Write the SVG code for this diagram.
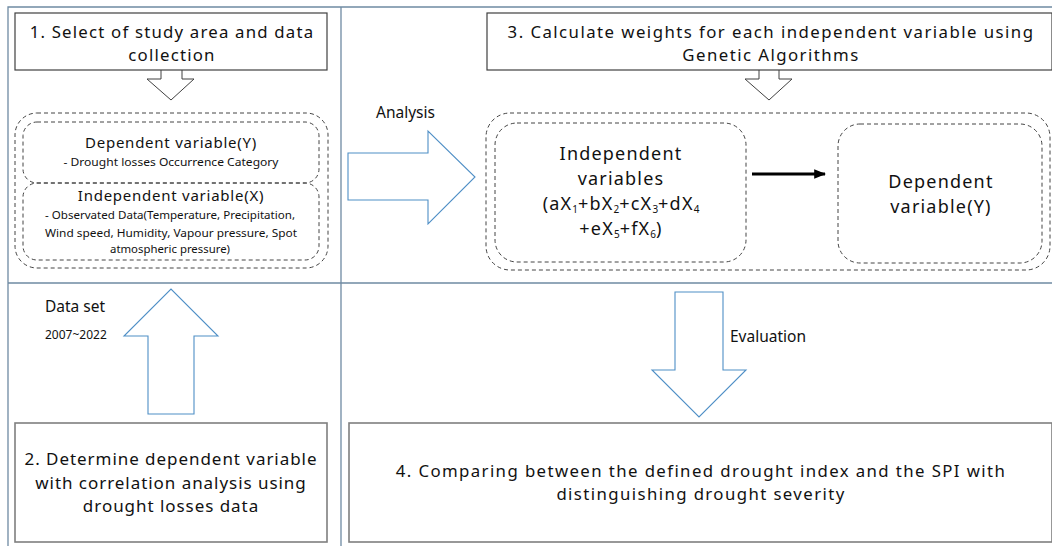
<svg xmlns="http://www.w3.org/2000/svg" width="1052" height="546" viewBox="0 0 1052 546">
<style>
.frame{stroke:#6f8aa3;stroke-width:1.3;fill:none}
.box{fill:#fff;stroke:#404040;stroke-width:1.2}
.box2{fill:#fff;stroke:#7f7f7f;stroke-width:1.6}
.dash{fill:none;stroke:#444;stroke-width:1;stroke-dasharray:4 3}
.hollow{fill:#fff;stroke:#404040;stroke-width:1}
.blue{fill:#fff;stroke:#4f8fc6;stroke-width:1.1}
text{font-family:"Noto Sans","Open Sans","Liberation Sans",sans-serif;fill:#111}
.tb1{font-size:16.8px;letter-spacing:1.2px;text-anchor:middle}
.tb3{font-size:16.8px;letter-spacing:1.45px;text-anchor:middle}
.t2{font-size:17px;letter-spacing:0.95px;text-anchor:middle}
.t4{font-size:16.8px;letter-spacing:1.4px;text-anchor:middle}
.tr{font-size:18px;letter-spacing:1.2px;text-anchor:middle}
.t15{font-size:15px;letter-spacing:0.75px;text-anchor:middle}
.t12{font-size:11.5px;text-anchor:middle}
.lab{font-size:15.5px}
.sub{font-size:10px;letter-spacing:0}
</style>
<defs>
<marker id="ah" viewBox="0 0 10 10" refX="9" refY="5" markerWidth="4" markerHeight="4" orient="auto" markerUnits="strokeWidth">
<path d="M0,1 L10,5 L0,9 z" fill="#000"/>
</marker>
</defs>
<g id="frame">
<path class="frame" d="M8,546 V7 H1052 M341,7 V546 M8,283 H1052"/>
</g>
<g id="connectors">
<path class="hollow" d="M161,70 V79 H147 L171,100 L194,79 H182 V70"/>
<path class="hollow" d="M759,70 V79 H745 L769,100 L792,79 H779 V70"/>
<path class="blue" d="M348,153 H428 V131 L475,177 L428,224 V200 H348 Z"/>
<path class="blue" d="M148,414 V336 H124 L171,289 L218,336 H194 V414 Z"/>
<path class="blue" d="M675,292 H723 V370 H746 L699,417 L652,370 H675 Z"/>
<line x1="752" y1="174" x2="825" y2="174" stroke="#000" stroke-width="3" marker-end="url(#ah)"/>
<text class="lab" x="376" y="118">Analysis</text>
<text class="lab" x="45" y="312">Data set</text>
<text x="45" y="339" style="font-size:12px">2007~2022</text>
<text class="lab" x="730" y="342">Evaluation</text>
</g>
<g id="node1">
<rect class="box" x="15" y="13" width="312" height="57"/>
<text class="tb1" x="172" y="38">1. Select of study area and data</text>
<text class="tb1" x="172" y="61">collection</text>
</g>
<g id="node-data">
<rect class="dash" x="15" y="113" width="313" height="155" rx="22"/>
<rect class="dash" x="23" y="122" width="296" height="61" rx="14"/>
<rect class="dash" x="23" y="183" width="296" height="77" rx="14"/>
<text class="t15" x="171" y="148">Dependent variable(Y)</text>
<text class="t12" x="171" y="166" textLength="215" lengthAdjust="spacingAndGlyphs">-  Drought losses Occurrence Category</text>
<text class="t15" x="171" y="201">Independent variable(X)</text>
<text class="t12" x="170" y="218.5" textLength="250" lengthAdjust="spacingAndGlyphs">- Observated Data(Temperature, Precipitation,</text>
<text class="t12" x="171" y="236.5" textLength="252" lengthAdjust="spacingAndGlyphs">Wind speed, Humidity, Vapour pressure, Spot</text>
<text class="t12" x="170" y="253" textLength="120" lengthAdjust="spacingAndGlyphs">atmospheric pressure)</text>
</g>
<g id="node2">
<rect class="box2" x="15" y="423" width="312" height="119"/>
<text class="t2" x="171" y="465">2. Determine dependent variable</text>
<text class="t2" x="171" y="488.5">with correlation analysis using</text>
<text class="t2" x="171" y="512">drought losses data</text>
</g>
<g id="node3">
<rect class="box" x="487" y="13" width="565" height="57"/>
<text class="tb3" x="771" y="38">3. Calculate weights for each independent variable using</text>
<text class="tb3" x="771" y="61">Genetic Algorithms</text>
</g>
<g id="node-model">
<rect class="dash" x="486" y="113" width="564" height="157" rx="24"/>
<rect class="dash" x="495" y="123" width="251" height="139" rx="22"/>
<rect class="dash" x="838" y="124" width="204" height="139" rx="22"/>
<text class="tr" x="621" y="160">Independent</text>
<text class="tr" x="621" y="185">variables</text>
<text class="tr" x="621" y="210">(aX<tspan class="sub" dy="3">1</tspan><tspan dy="-3">+bX</tspan><tspan class="sub" dy="3">2</tspan><tspan dy="-3">+cX</tspan><tspan class="sub" dy="3">3</tspan><tspan dy="-3">+dX</tspan><tspan class="sub" dy="3">4</tspan></text>
<text class="tr" x="621" y="235">+eX<tspan class="sub" dy="3">5</tspan><tspan dy="-3">+fX</tspan><tspan class="sub" dy="3">6</tspan><tspan dy="-3">)</tspan></text>
<text class="tr" x="941" y="188">Dependent</text>
<text class="tr" x="941" y="213">variable(Y)</text>
</g>
<g id="node4">
<rect class="box2" x="349" y="423" width="703" height="119"/>
<text class="t4" x="701" y="477">4. Comparing between the defined drought index and the SPI with</text>
<text class="t4" x="701" y="500">distinguishing drought severity</text>
</g>
</svg>
